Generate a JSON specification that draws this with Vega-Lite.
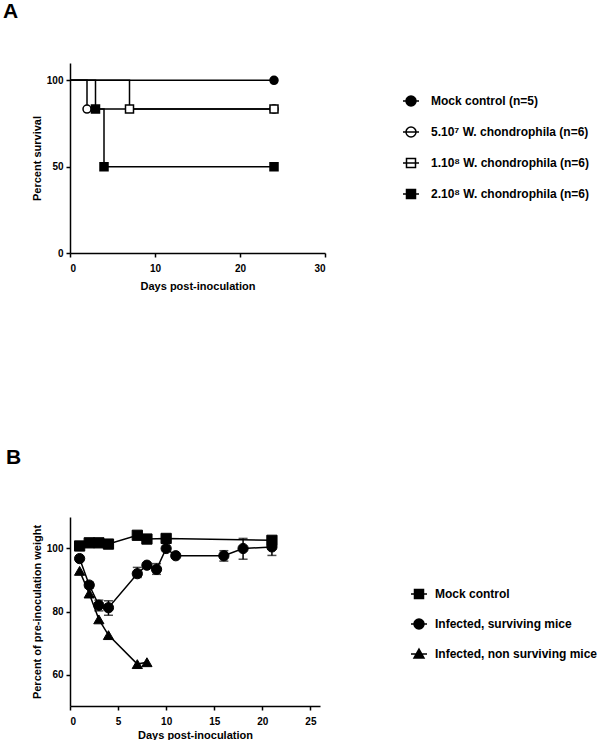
{
  "$schema": "https://vega.github.io/schema/vega-lite/v6.json",
  "padding": {"left": 3, "top": 1, "right": 0, "bottom": 0},
  "config": {
    "font": "Liberation Sans",
    "view": {"stroke": null},
    "axis": {"grid": false, "domainColor": "black", "domainWidth": 1.5, "tickColor": "black", "tickWidth": 1.5, "tickSize": 4, "labelFont": "Liberation Sans", "labelFontWeight": "bold", "labelFontSize": 10, "labelColor": "black", "titleFont": "Liberation Sans", "titleFontSize": 11, "titleFontWeight": "bold", "titleColor": "black", "labelPadding": 3},
    "axisX": {"labelPadding": 6, "titlePadding": 7},
    "legend": {"labelFont": "Liberation Sans", "labelFontSize": 12, "labelFontWeight": "bold", "labelColor": "black", "labelLimit": 400, "symbolSize": 100, "rowPadding": 15, "labelOffset": 14, "orient": "none"},
    "title": {"font": "Liberation Sans", "fontSize": 21, "fontWeight": "bold", "anchor": "start", "color": "black", "frame": "group"}
  },
  "datasets": {
    "survCurves": [
      {"group": "Mock control (n=5)", "day": 0, "survival": 100},
      {"group": "Mock control (n=5)", "day": 24, "survival": 100},
      {"group": "5.10⁷ W. chondrophila (n=6)", "day": 0, "survival": 100},
      {"group": "5.10⁷ W. chondrophila (n=6)", "day": 2, "survival": 83.33},
      {"group": "5.10⁷ W. chondrophila (n=6)", "day": 24, "survival": 83.33},
      {"group": "1.10⁸ W. chondrophila (n=6)", "day": 0, "survival": 100},
      {"group": "1.10⁸ W. chondrophila (n=6)", "day": 7, "survival": 83.33},
      {"group": "1.10⁸ W. chondrophila (n=6)", "day": 24, "survival": 83.33},
      {"group": "2.10⁸ W. chondrophila (n=6)", "day": 0, "survival": 100},
      {"group": "2.10⁸ W. chondrophila (n=6)", "day": 3, "survival": 83.33},
      {"group": "2.10⁸ W. chondrophila (n=6)", "day": 4, "survival": 50},
      {"group": "2.10⁸ W. chondrophila (n=6)", "day": 24, "survival": 50}
    ],
    "survEvents": [
      {"group": "Mock control (n=5)", "day": 24, "survival": 100},
      {"group": "5.10⁷ W. chondrophila (n=6)", "day": 2, "survival": 83.33},
      {"group": "5.10⁷ W. chondrophila (n=6)", "day": 24, "survival": 83.33},
      {"group": "1.10⁸ W. chondrophila (n=6)", "day": 7, "survival": 83.33},
      {"group": "1.10⁸ W. chondrophila (n=6)", "day": 24, "survival": 83.33},
      {"group": "2.10⁸ W. chondrophila (n=6)", "day": 3, "survival": 83.33},
      {"group": "2.10⁸ W. chondrophila (n=6)", "day": 4, "survival": 50},
      {"group": "2.10⁸ W. chondrophila (n=6)", "day": 24, "survival": 50}
    ],
    "weight": [
      {"group": "Mock control", "day": 1, "weight": 100.8},
      {"group": "Mock control", "day": 2, "weight": 101.8},
      {"group": "Mock control", "day": 3, "weight": 101.8},
      {"group": "Mock control", "day": 4, "weight": 101.4},
      {"group": "Mock control", "day": 7, "weight": 104.2},
      {"group": "Mock control", "day": 8, "weight": 103.0},
      {"group": "Mock control", "day": 10, "weight": 103.2},
      {"group": "Mock control", "day": 21, "weight": 102.6},
      {"group": "Infected, surviving mice", "day": 1, "weight": 96.8},
      {"group": "Infected, surviving mice", "day": 2, "weight": 88.4, "lo": 87.4, "hi": 89.4},
      {"group": "Infected, surviving mice", "day": 3, "weight": 82.0, "lo": 80.2, "hi": 83.6},
      {"group": "Infected, surviving mice", "day": 4, "weight": 81.2, "lo": 78.8, "hi": 83.4},
      {"group": "Infected, surviving mice", "day": 7, "weight": 92.0, "lo": 90.8, "hi": 94.0},
      {"group": "Infected, surviving mice", "day": 8, "weight": 94.7},
      {"group": "Infected, surviving mice", "day": 9, "weight": 93.4, "lo": 91.8, "hi": 95.2},
      {"group": "Infected, surviving mice", "day": 10, "weight": 100.0},
      {"group": "Infected, surviving mice", "day": 11, "weight": 97.7},
      {"group": "Infected, surviving mice", "day": 16, "weight": 97.7, "lo": 96.0, "hi": 99.3},
      {"group": "Infected, surviving mice", "day": 18, "weight": 100.0, "lo": 96.6, "hi": 103.2},
      {"group": "Infected, surviving mice", "day": 21, "weight": 100.5, "lo": 97.8, "hi": 102.6},
      {"group": "Infected, non surviving mice", "day": 1, "weight": 92.9},
      {"group": "Infected, non surviving mice", "day": 2, "weight": 85.7},
      {"group": "Infected, non surviving mice", "day": 3, "weight": 77.5},
      {"group": "Infected, non surviving mice", "day": 4, "weight": 72.5},
      {"group": "Infected, non surviving mice", "day": 7, "weight": 63.3},
      {"group": "Infected, non surviving mice", "day": 8, "weight": 63.9}
    ]
  },
  "spacing": 156,
  "resolve": {"scale": {"shape": "independent", "fill": "independent", "x": "independent", "y": "independent"}, "legend": {"shape": "independent", "fill": "independent"}},
  "vconcat": [
    {
      "title": {"text": "A", "dx": -67, "offset": 41},
      "width": 255,
      "height": 190,
      "resolve": {"scale": {"shape": "independent", "fill": "independent"}},
      "layer": [
        {
          "data": {"name": "survCurves"},
          "mark": {"type": "line", "interpolate": "step-after", "color": "black", "strokeWidth": 1.5},
          "encoding": {
            "x": {"field": "day", "type": "quantitative", "scale": {"domain": [0, 30]}, "axis": {"values": [0, 10, 20, 30], "title": "Days post-inoculation"}},
            "y": {"field": "survival", "type": "quantitative", "scale": {"domain": [0, 110]}, "axis": {"values": [0, 50, 100], "title": "Percent survival"}},
            "detail": {"field": "group", "type": "nominal"}
          }
        },
        {
          "data": {"name": "survEvents"},
          "mark": {"type": "point", "filled": false, "color": "black", "stroke": "black", "strokeWidth": 1.5, "size": 0, "opacity": 1},
          "encoding": {
            "x": {"field": "day", "type": "quantitative"},
            "y": {"field": "survival", "type": "quantitative"},
            "shape": {
              "field": "group", "type": "nominal",
              "scale": {"domain": ["Mock control (n=5)", "5.10⁷ W. chondrophila (n=6)", "1.10⁸ W. chondrophila (n=6)", "2.10⁸ W. chondrophila (n=6)"], "range": ["M-1.6,0H1.6M1,0A1,1 0 1,1 -1,0A1,1 0 1,1 1,0Z", "M-1.6,0H1.6M1,0A1,1 0 1,1 -1,0A1,1 0 1,1 1,0Z", "M-1.6,0H1.6M-0.9,-0.9H0.9V0.9H-0.9Z", "M-1.6,0H1.6M-0.9,-0.9H0.9V0.9H-0.9Z"]},
              "legend": {"title": null, "legendX": 335, "legendY": 32, "symbolSize": 100, "symbolStrokeWidth": 1.5, "symbolOpacity": 1}
            },
            "fill": {
              "field": "group", "type": "nominal",
              "scale": {"domain": ["Mock control (n=5)", "5.10⁷ W. chondrophila (n=6)", "1.10⁸ W. chondrophila (n=6)", "2.10⁸ W. chondrophila (n=6)"], "range": ["black", "white", "white", "black"]},
              "legend": {"title": null, "legendX": 335, "legendY": 32, "symbolSize": 100, "symbolStrokeWidth": 1.5, "symbolOpacity": 1}
            }
          }
        },
        {
          "data": {"name": "survEvents"},
          "mark": {"type": "point", "filled": true, "stroke": "black", "strokeWidth": 1.5, "size": 64, "opacity": 1},
          "encoding": {
            "x": {"field": "day", "type": "quantitative"},
            "y": {"field": "survival", "type": "quantitative"},
            "shape": {
              "field": "group", "type": "nominal",
              "scale": {"domain": ["Mock control (n=5)", "5.10⁷ W. chondrophila (n=6)", "1.10⁸ W. chondrophila (n=6)", "2.10⁸ W. chondrophila (n=6)"], "range": ["circle", "circle", "square", "square"]},
              "legend": null
            },
            "fill": {
              "field": "group", "type": "nominal",
              "scale": {"domain": ["Mock control (n=5)", "5.10⁷ W. chondrophila (n=6)", "1.10⁸ W. chondrophila (n=6)", "2.10⁸ W. chondrophila (n=6)"], "range": ["black", "white", "white", "black"]},
              "legend": null
            }
          }
        }
      ]
    },
    {
      "title": {"text": "B", "dx": -64, "offset": 49},
      "width": 250,
      "height": 189,
      "resolve": {"scale": {"shape": "independent"}},
      "layer": [
        {
          "data": {"name": "weight"},
          "mark": {"type": "line", "color": "black", "strokeWidth": 1.5},
          "encoding": {
            "x": {"field": "day", "type": "quantitative", "scale": {"domain": [0, 25]}, "axis": {"values": [0, 5, 10, 15, 20, 25], "title": "Days post-inoculation", "titlePadding": 3}},
            "y": {"field": "weight", "type": "quantitative", "scale": {"domain": [50, 110]}, "axis": {"values": [60, 80, 100], "title": "Percent of pre-inoculation weight"}},
            "detail": {"field": "group", "type": "nominal"}
          }
        },
        {
          "data": {"name": "weight"},
          "transform": [{"filter": "isValid(datum.lo)"}],
          "mark": {"type": "rule", "color": "black", "strokeWidth": 1.5},
          "encoding": {
            "x": {"field": "day", "type": "quantitative"},
            "y": {"field": "lo", "type": "quantitative"},
            "y2": {"field": "hi"}
          }
        },
        {
          "data": {"name": "weight"},
          "transform": [{"filter": "isValid(datum.lo)"}],
          "mark": {"type": "tick", "orient": "horizontal", "color": "black", "size": 9, "thickness": 1.5},
          "encoding": {
            "x": {"field": "day", "type": "quantitative"},
            "y": {"field": "lo", "type": "quantitative"}
          }
        },
        {
          "data": {"name": "weight"},
          "transform": [{"filter": "isValid(datum.hi)"}],
          "mark": {"type": "tick", "orient": "horizontal", "color": "black", "size": 9, "thickness": 1.5},
          "encoding": {
            "x": {"field": "day", "type": "quantitative"},
            "y": {"field": "hi", "type": "quantitative"}
          }
        },
        {
          "data": {"name": "weight"},
          "mark": {"type": "point", "filled": false, "color": "black", "fill": "black", "stroke": "black", "strokeWidth": 1.5, "size": 0, "opacity": 1},
          "encoding": {
            "x": {"field": "day", "type": "quantitative"},
            "y": {"field": "weight", "type": "quantitative"},
            "shape": {
              "field": "group", "type": "nominal",
              "scale": {"domain": ["Mock control", "Infected, surviving mice", "Infected, non surviving mice"], "range": ["M-1.6,0H1.6M-0.9,-0.9H0.9V0.9H-0.9Z", "M-1.6,0H1.6M1,0A1,1 0 1,1 -1,0A1,1 0 1,1 1,0Z", "M-1.6,0H1.6M0,-1L1,0.8H-1Z"]},
              "legend": {"title": null, "legendX": 343, "legendY": 71, "rowPadding": 14, "labelOffset": 10, "symbolSize": 100, "symbolFillColor": "black", "symbolStrokeWidth": 1.5, "symbolOpacity": 1}
            }
          }
        },
        {
          "data": {"name": "weight"},
          "mark": {"type": "point", "filled": true, "fill": "black", "stroke": "black", "strokeWidth": 1, "size": 105, "opacity": 1},
          "encoding": {
            "x": {"field": "day", "type": "quantitative"},
            "y": {"field": "weight", "type": "quantitative"},
            "shape": {
              "field": "group", "type": "nominal",
              "scale": {"domain": ["Mock control", "Infected, surviving mice", "Infected, non surviving mice"], "range": ["square", "circle", "triangle-up"]},
              "legend": null
            }
          }
        }
      ]
    }
  ]
}
